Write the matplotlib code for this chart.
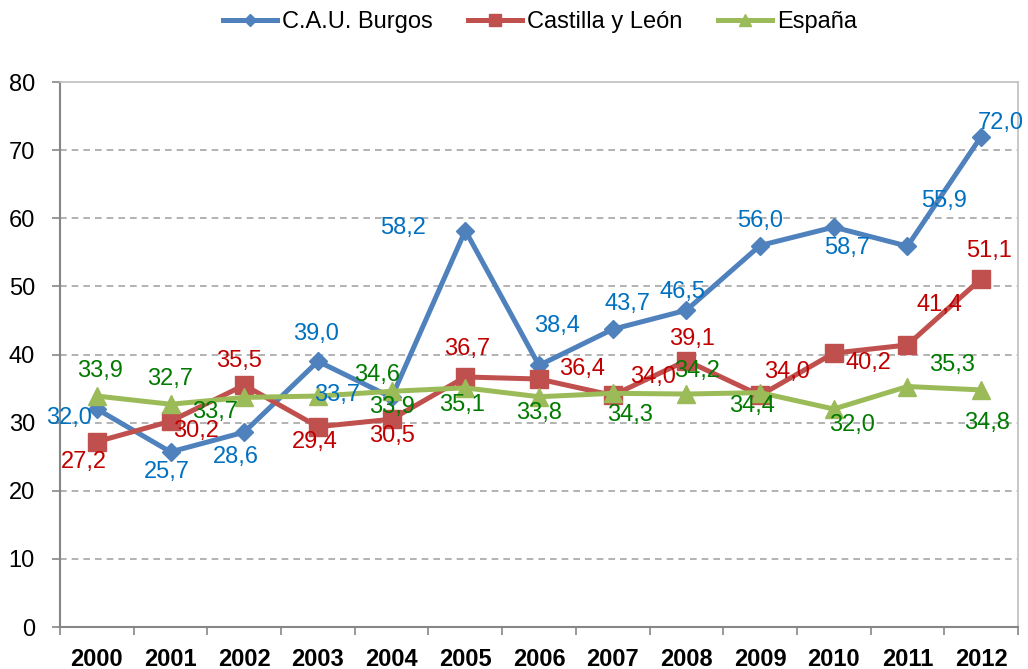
import matplotlib
matplotlib.use("Agg")
import matplotlib.pyplot as plt
from matplotlib.ticker import MultipleLocator, FixedLocator

plt.rcParams["font.family"] = ["Liberation Sans", "DejaVu Sans"]

years = ["2000", "2001", "2002", "2003", "2004", "2005", "2006",
         "2007", "2008", "2009", "2010", "2011", "2012"]
burgos = [32.0, 25.7, 28.6, 39.0, 33.7, 58.2, 38.4, 43.7, 46.5, 56.0, 58.7, 55.9, 72.0]
castilla = [27.2, 30.2, 35.5, 29.4, 30.5, 36.7, 36.4, 34.0, 39.1, 34.0, 40.2, 41.4, 51.1]
espana = [33.9, 32.7, 33.7, 33.9, 34.6, 35.1, 33.8, 34.3, 34.2, 34.4, 32.0, 35.3, 34.8]

# label offsets in pixels (x right, y down)
burgos_off = [(-28, 9), (-4, 20), (-8, 25), (-2, -27), (-55, -2), (-62, -3), (18, -39),
              (15, -25), (-4, -18), (0, -25), (13, 21), (37, -45), (20, -14)]
castilla_off = [(-13, 20), (25, 10), (-5, -24), (-3, 15), (0, 17), (2, -28), (43, -10),
                (40, -18), (6, -22), (27, -23), (35, 10), (32, -40), (8, -28)]
espana_off = [(3, -25), (0, -25), (-29, 15), (74, 11), (-15, -16), (-3, 17), (0, 16),
              (17, 22), (11, -23), (-8, 13), (18, 16), (45, -22), (6, 33)]

series = [
    ("C.A.U. Burgos", burgos, burgos_off, "#4F81BD", "#0070C0", "D", 9),
    ("Castilla y León", castilla, castilla_off, "#C0504D", "#C00000", "s", 13),
    ("España", espana, espana_off, "#9BBB59", "#007A00", "^", 13),
]

fig = plt.figure(figsize=(10.28, 6.69), dpi=100)
ax = fig.add_axes([60 / 1028, 1 - 627 / 669, 958 / 1028, 545 / 669])

x = list(range(len(years)))
for name, vals, offs, col, lcol, mk, ms in series:
    ax.plot(x, vals, color=col, lw=3.6, marker=mk, markersize=ms,
            markerfacecolor=col, markeredgecolor=col, label=name, zorder=3)
    for xi, v, (dx, dy) in zip(x, vals, offs):
        ax.annotate(f"{v:.1f}".replace(".", ","), (xi, v), xytext=(dx, -dy),
                    textcoords="offset pixels", ha="center", va="center",
                    color=lcol, fontsize=17, zorder=4)

ax.set_xlim(-0.5, len(years) - 0.5)
ax.set_ylim(0, 80)
ax.yaxis.set_major_locator(MultipleLocator(10))
ax.set_xticks(x)
ax.set_xticklabels(years, fontsize=17, fontweight="bold")
ax.xaxis.set_minor_locator(FixedLocator([i - 0.5 for i in range(len(years) + 1)]))
ax.tick_params(axis="x", which="major", length=0, pad=15)
ax.tick_params(axis="x", which="minor", length=6, color="#868686", width=1.2)
ax.tick_params(axis="y", length=6, color="#868686", width=1.2, pad=12, labelsize=17)

for yv in range(10, 80, 10):
    ax.axhline(yv, color="#A6A6A6", lw=1.2, ls=(0, (4, 3)), zorder=1)

for s in ("left", "bottom"):
    ax.spines[s].set_color("#868686")
    ax.spines[s].set_linewidth(1.5)
for s in ("top", "right"):
    ax.spines[s].set_color("#BFBFBF")
    ax.spines[s].set_linewidth(1.2)

fig.legend(loc="center", bbox_to_anchor=(540 / 1028, 1 - 22 / 669), ncol=3,
           frameon=False, fontsize=17, handlelength=2.3, markerscale=0.7,
           columnspacing=1.5, handletextpad=0.2)

fig.savefig("out.png", dpi=100)
